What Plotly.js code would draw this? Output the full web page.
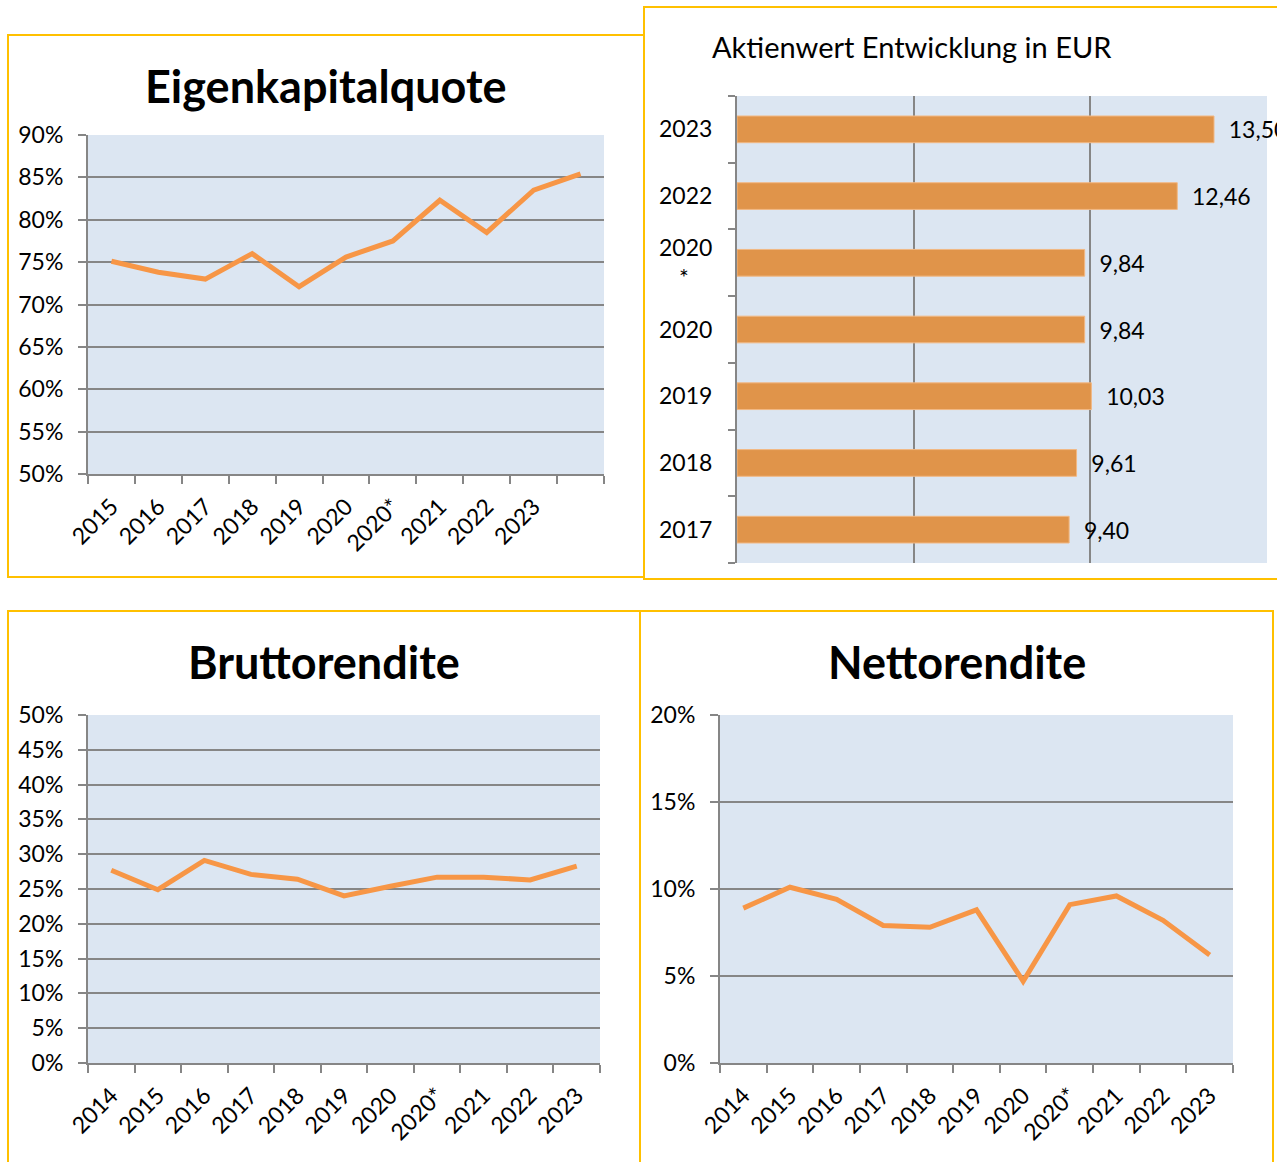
<!DOCTYPE html>
<html>
<head>
<meta charset="utf-8">
<script src="https://cdn.plot.ly/plotly-3.0.1.min.js"></script>
<style>
  html, body { margin: 0; padding: 0; background: #fff; }
  #chart { width: 1277px; height: 1162px; }
  #chart text { font-variant-ligatures: none; }
</style>
</head>
<body>
<div id="chart"></div>
<script>
// Eigenkapitalquote - last point carries no year label in the original
const ekqYears = ['2015', '2016', '2017', '2018', '2019', '2020', '2020*', '2021', '2022', '2023', ''];
const ekqValues = [75.1, 73.8, 73.0, 76.0, 72.1, 75.6, 77.5, 82.3, 78.5, 83.5, 85.4];

// Aktienwert Entwicklung in EUR (bottom to top)
const aktienYears = ['2017', '2018', '2019', '2020', '2020<br>*\u00a0\u00a0\u00a0\u00a0', '2022', '2023'];
const aktienValues = [9.40, 9.61, 10.03, 9.84, 9.84, 12.46, 13.50];

// Brutto- und Nettorendite
const renditeYears = ['2014', '2015', '2016', '2017', '2018', '2019', '2020', '2020*', '2021', '2022', '2023'];
const bruttoValues = [27.7, 24.9, 29.1, 27.1, 26.4, 24.0, 25.4, 26.7, 26.7, 26.3, 28.3];
const nettoValues = [8.9, 10.1, 9.4, 7.9, 7.8, 8.8, 4.7, 9.1, 9.6, 8.2, 6.2];

const W = 1277, H = 1162;
const px = x => x / W;
const py = y => 1 - y / H;

const FONT = 'Lato, "Open Sans", sans-serif';
const GRID = '#868686';
const LINE = '#F79646';
const BAR = '#E0944A';
const BORDER = '#FFC000';
const PLOTBG = '#DCE6F2';

const idx = arr => arr.map((_, i) => i);

function lineXAxis(domain, labels) {
    return {
        domain: domain,
        range: [-0.5, labels.length - 0.5],
        tickmode: 'array',
        tickvals: idx(labels),
        ticktext: labels,
        tickangle: -45,
        ticks: '',
        ticklabelstandoff: 8,
        showgrid: false,
        zeroline: false,
        showline: true,
        linecolor: GRID,
        linewidth: 2,
        minor: { tickmode: 'linear', tick0: -0.5, dtick: 1, ticks: 'outside', ticklen: 8, tickwidth: 2, tickcolor: GRID, showgrid: false },
        tickfont: { family: FONT, size: 23, color: '#000' },
        fixedrange: true
    };
}

function lineYAxis(domain, range, dtick) {
    return {
        domain: domain,
        range: range,
        dtick: dtick,
        ticksuffix: '%',
        ticks: 'outside',
        ticklen: 8,
        tickwidth: 2,
        tickcolor: GRID,
        ticklabelstandoff: 10,
        showgrid: true,
        gridcolor: GRID,
        gridwidth: 2,
        zeroline: false,
        showline: true,
        linecolor: GRID,
        linewidth: 2,
        tickfont: { family: FONT, size: 23, color: '#000' },
        fixedrange: true
    };
}

const lineStyle = { color: LINE, width: 5 };

const traces = [
    {
        x: idx(ekqValues), y: ekqValues, type: 'scatter', mode: 'lines',
        line: lineStyle, xaxis: 'x', yaxis: 'y', hoverinfo: 'skip'
    },
    {
        x: aktienValues, y: aktienYears, type: 'bar', orientation: 'h',
        marker: { color: BAR, line: { color: '#F2B883', width: 1 } },
        texttemplate: '\u00a0\u00a0%{x:.2f}', textposition: 'outside', cliponaxis: false,
        constraintext: 'none',
        textfont: { family: FONT, size: 23, color: '#000' },
        xaxis: 'x2', yaxis: 'y2', hoverinfo: 'skip'
    },
    {
        x: idx(bruttoValues), y: bruttoValues, type: 'scatter', mode: 'lines',
        line: lineStyle, xaxis: 'x3', yaxis: 'y3', hoverinfo: 'skip'
    },
    {
        x: idx(nettoValues), y: nettoValues, type: 'scatter', mode: 'lines',
        line: lineStyle, xaxis: 'x4', yaxis: 'y4', hoverinfo: 'skip'
    }
];

const titleFont = { family: FONT, size: 45, color: '#000', weight: 'bold' };

const layout = {
    width: W, height: H,
    autosize: false,
    margin: { l: 0, r: 0, t: 0, b: 0 },
    paper_bgcolor: '#fff',
    plot_bgcolor: PLOTBG,
    showlegend: false,
    separators: ',.',

    // Eigenkapitalquote
    xaxis: lineXAxis([px(88), px(604)], ekqYears),
    yaxis: Object.assign(lineYAxis([py(474), py(135)], [50, 90], 5), { anchor: 'x' }),

    // Aktienwert
    xaxis2: {
        domain: [px(737), px(1267)], anchor: 'y2',
        range: [0, 15], dtick: 5,
        showticklabels: false, ticks: '',
        showgrid: true, gridcolor: GRID, gridwidth: 2,
        zeroline: false, showline: false, fixedrange: true
    },
    yaxis2: {
        domain: [py(563), py(96)], anchor: 'x2',
        type: 'category',
        tickson: 'boundaries',
        ticks: 'outside', ticklen: 7, tickwidth: 2, tickcolor: GRID,
        ticklabelstandoff: 18,
        showgrid: false, zeroline: false,
        showline: true, linecolor: GRID, linewidth: 2,
        tickfont: { family: FONT, size: 23, color: '#000' },
        fixedrange: true
    },

    // Bruttorendite
    xaxis3: Object.assign(lineXAxis([px(88), px(600)], renditeYears), { anchor: 'y3' }),
    yaxis3: Object.assign(lineYAxis([py(1063), py(715)], [0, 50], 5), { anchor: 'x3' }),

    // Nettorendite
    xaxis4: Object.assign(lineXAxis([px(720), px(1233)], renditeYears), { anchor: 'y4' }),
    yaxis4: Object.assign(lineYAxis([py(1063), py(715)], [0, 20], 5), { anchor: 'x4' }),

    bargap: 0.6,

    annotations: [
        { text: 'Eigenkapitalquote', x: px(326), y: py(86), xref: 'paper', yref: 'paper',
          xanchor: 'center', yanchor: 'middle', showarrow: false, font: titleFont },
        { text: 'Aktienwert Entwicklung in EUR', x: px(710), y: py(47), xref: 'paper', yref: 'paper',
          xanchor: 'left', yanchor: 'middle', showarrow: false,
          font: { family: FONT, size: 29, color: '#000' } },
        { text: 'Bruttorendite', x: px(324), y: py(662), xref: 'paper', yref: 'paper',
          xanchor: 'center', yanchor: 'middle', showarrow: false, font: titleFont },
        { text: 'Nettorendite', x: px(957), y: py(662), xref: 'paper', yref: 'paper',
          xanchor: 'center', yanchor: 'middle', showarrow: false, font: titleFont }
    ],

    shapes: [
        [8, 35, 644, 577],
        [644, 7, 1290, 579],
        [8, 611, 640, 1180],
        [640, 611, 1273, 1180]
    ].map(([x0, y0, x1, y1]) => ({
        type: 'rect', xref: 'paper', yref: 'paper',
        x0: px(x0), x1: px(x1), y0: py(y1), y1: py(y0),
        line: { color: BORDER, width: 2 }, fillcolor: 'rgba(0,0,0,0)', layer: 'below'
    }))
};

Plotly.newPlot('chart', traces, layout, { displayModeBar: false, staticPlot: true });
</script>
</body>
</html>
